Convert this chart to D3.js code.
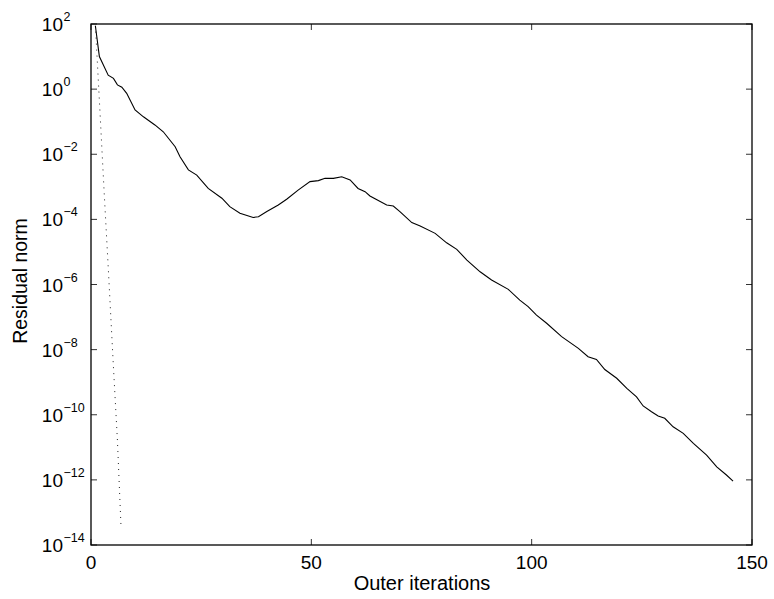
<!DOCTYPE html>
<html><head><meta charset="utf-8">
<script src="https://cdn.jsdelivr.net/npm/d3@7"></script>
<style>
body{margin:0;background:#fff;}
svg{display:block;font-family:"Liberation Sans",Arial,Helvetica,sans-serif;}
</style></head><body>
<svg id="c" width="774" height="599"></svg>
<script>
// Solid curve: outer iteration and log10(residual norm)
const iterSolid = [1, 1.9, 3.9, 5.1, 6.0, 7.0, 8.1, 10.0, 11.9, 14.5, 16.4, 19.1, 20.2, 22.1, 24.0, 26.6, 29.7, 31.5, 33.8, 36.8, 38.0, 39.9, 42.5, 44.4, 47.0, 49.7, 51.6, 53.1, 55.0, 56.9, 58.8, 60.6, 62.2, 63.3, 67.1, 68.6, 70.1, 72.8, 74.7, 78.1, 80.7, 83.0, 85.3, 88.3, 90.9, 94.7, 97.3, 99.2, 101.1, 103.4, 106.8, 110.6, 112.8, 114.7, 116.6, 119.3, 121.6, 123.8, 125.3, 127.2, 128.7, 130.2, 132.1, 134.4, 136.7, 139.7, 142.0, 144.2, 145.7];
const logSolid = [1.94, 1.0, 0.43, 0.33, 0.13, 0.06, -0.13, -0.64, -0.85, -1.1, -1.31, -1.77, -2.08, -2.48, -2.64, -3.05, -3.35, -3.61, -3.81, -3.94, -3.92, -3.76, -3.56, -3.38, -3.10, -2.84, -2.81, -2.74, -2.74, -2.69, -2.79, -3.05, -3.15, -3.28, -3.56, -3.59, -3.76, -4.10, -4.20, -4.43, -4.72, -4.92, -5.25, -5.61, -5.86, -6.15, -6.48, -6.68, -6.94, -7.19, -7.60, -7.96, -8.22, -8.30, -8.61, -8.88, -9.19, -9.45, -9.73, -9.91, -10.04, -10.11, -10.37, -10.57, -10.88, -11.24, -11.60, -11.85, -12.04];
// Dotted curve
const iterDotted = [1, 2, 3, 4, 5, 6, 6.8];
const logDotted = [1.95, -0.6, -3.2, -5.7, -8.3, -10.8, -13.4];
// Ticks
const xTicks = [0, 50, 100, 150];
const yTickExps = [2, 0, -2, -4, -6, -8, -10, -12, -14];

const svg = d3.select("#c");
const L = 91, R = 752, T = 24, B = 545;
const x = d3.scaleLinear().domain([0, 150]).range([L, R]);
const y = d3.scaleLog().domain([1e-14, 1e2]).range([B, T]);

const solid = iterSolid.map((d, i) => [d, Math.pow(10, logSolid[i])]);
const dotted = iterDotted.map((d, i) => [d, Math.pow(10, logDotted[i])]);
const line = d3.line().x(d => x(d[0])).y(d => y(d[1]));

svg.append("path").attr("d", line(dotted)).attr("fill", "none")
  .attr("stroke", "#222").attr("stroke-width", 1).attr("stroke-dasharray", "1,5");
svg.append("path").attr("d", line(solid)).attr("fill", "none")
  .attr("stroke", "#000").attr("stroke-width", 1.1);

// ticks
const tl = 6;
const tg = svg.append("g").attr("stroke", "#333").attr("stroke-width", 1);
xTicks.forEach(t => {
  tg.append("line").attr("x1", x(t)).attr("x2", x(t)).attr("y1", B).attr("y2", B - tl);
  tg.append("line").attr("x1", x(t)).attr("x2", x(t)).attr("y1", T).attr("y2", T + tl);
});
yTickExps.forEach(e => {
  const yy = y(Math.pow(10, e));
  tg.append("line").attr("x1", L).attr("x2", L + tl).attr("y1", yy).attr("y2", yy);
  tg.append("line").attr("x1", R).attr("x2", R - tl).attr("y1", yy).attr("y2", yy);
});

// frame
svg.append("rect").attr("x", L).attr("y", T).attr("width", R - L).attr("height", B - T)
  .attr("fill", "none").attr("stroke", "#000").attr("stroke-width", 1.3);

// x tick labels
svg.append("g").selectAll("text").data(xTicks).join("text")
  .attr("x", d => x(d)).attr("y", 569).attr("text-anchor", "middle")
  .attr("font-size", 19).attr("fill", "#000").text(d => d);

// y tick labels
const yl = svg.append("g");
yTickExps.forEach(e => {
  const yy = y(Math.pow(10, e));
  yl.append("text").attr("x", 63).attr("y", yy + 7).attr("text-anchor", "end")
    .attr("font-size", 19).attr("fill", "#000").text("10");
  yl.append("text").attr("x", 63.5).attr("y", yy - 3).attr("text-anchor", "start")
    .attr("font-size", 12.5).attr("fill", "#000").text(e < 0 ? "\u2212" + (-e) : String(e));
});

// axis labels
svg.append("text").attr("x", 422).attr("y", 590).attr("text-anchor", "middle")
  .attr("font-size", 20).attr("fill", "#000").text("Outer iterations");
svg.append("text").attr("transform", "translate(27,281) rotate(-90)").attr("text-anchor", "middle")
  .attr("font-size", 19.5).attr("fill", "#000").text("Residual norm");
</script></body></html>
